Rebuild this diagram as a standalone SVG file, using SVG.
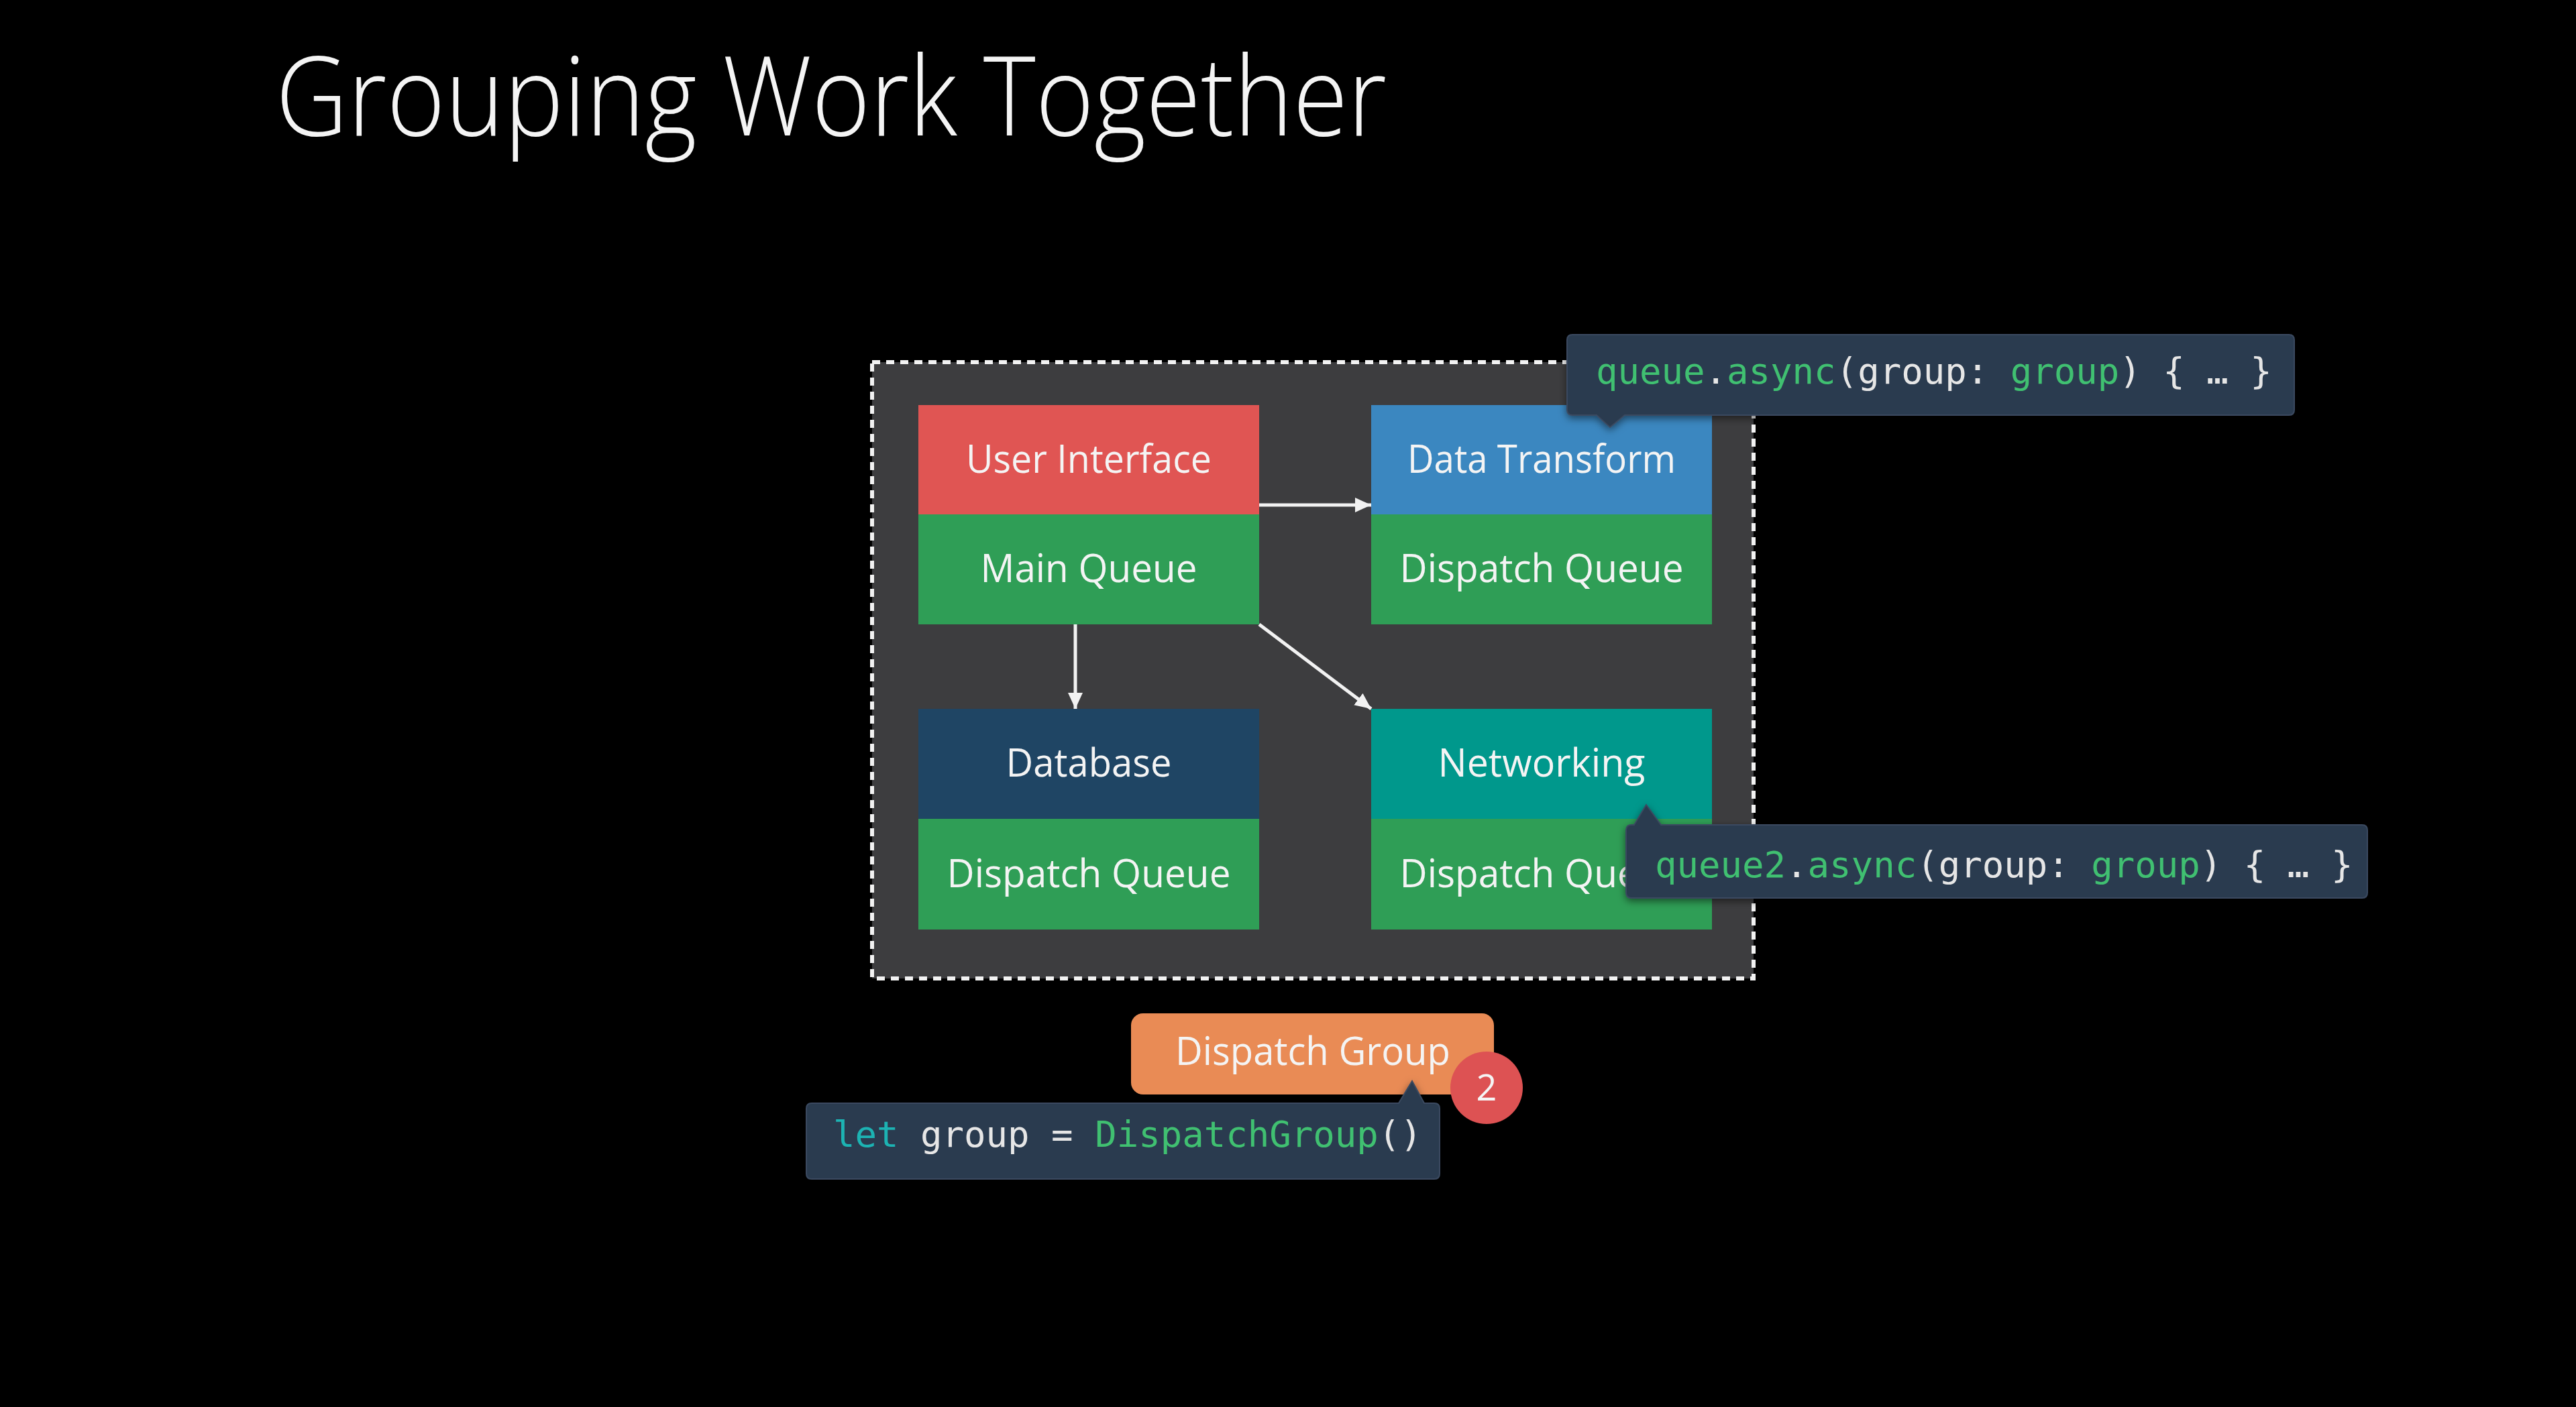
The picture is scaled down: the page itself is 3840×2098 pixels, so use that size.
<svg xmlns="http://www.w3.org/2000/svg" width="3840" height="2098" viewBox="0 0 3840 2098">
  <style>
    .lbl { font-family: "Open Sans", "Noto Sans", "Liberation Sans", sans-serif; font-size: 58px; fill: #f4f4f4; text-anchor: middle; }
    .code { font-family: "DejaVu Sans Mono", "Liberation Mono", monospace; font-size: 54px; fill: #e6e6e6; }
    .kw { fill: #3fc071; }
    .let { fill: #1fb3b3; }
    .callout { fill: #2c3b4f; stroke: #3a4a60; stroke-width: 2; }
    .conn { stroke: #f2f2f2; stroke-width: 5; fill: none; marker-end: url(#head); }
  </style>
  <defs>
    <marker id="head" viewBox="0 0 24 22" refX="24" refY="11" markerWidth="24" markerHeight="22" markerUnits="userSpaceOnUse" orient="auto">
      <path d="M0,0 L24,11 L0,22 Z" fill="#f2f2f2"/>
    </marker>
    <filter id="shadow" x="-10%" y="-30%" width="120%" height="160%">
      <feDropShadow dx="0" dy="4" stdDeviation="6" flood-color="#000" flood-opacity="0.5"/>
    </filter>
  </defs>

  <rect x="0" y="0" width="3840" height="2098" fill="#000"/>

  <!-- Title -->
  <text x="411" y="202" font-family="Open Sans, Noto Sans, Liberation Sans, sans-serif" font-weight="300" font-size="164" fill="#f4f4f4" textLength="1656" lengthAdjust="spacingAndGlyphs">Grouping Work Together</text>

  <!-- Dashed group panel -->
  <g id="group-panel">
    <rect x="1300" y="540" width="1314" height="919" fill="#3d3d3f" stroke="#f2f2f2" stroke-width="6" stroke-dasharray="12 9"/>
  </g>

  <!-- Queue blocks -->
  <g id="user-interface">
    <rect x="1369" y="604" width="508" height="164" fill="#e05553"/>
    <rect x="1369" y="767" width="508" height="164" fill="#2f9e56"/>
    <text class="lbl" x="1623" y="705" textLength="366" lengthAdjust="spacingAndGlyphs">User Interface</text>
    <text class="lbl" x="1623" y="868" textLength="323" lengthAdjust="spacingAndGlyphs">Main Queue</text>
  </g>

  <g id="data-transform">
    <rect x="2044" y="604" width="508" height="164" fill="#3b87c0"/>
    <rect x="2044" y="767" width="508" height="164" fill="#2f9e56"/>
    <text class="lbl" x="2298" y="705" textLength="400" lengthAdjust="spacingAndGlyphs">Data Transform</text>
    <text class="lbl" x="2298" y="868" textLength="423" lengthAdjust="spacingAndGlyphs">Dispatch Queue</text>
  </g>

  <g id="database">
    <rect x="1369" y="1057" width="508" height="165" fill="#1f4564"/>
    <rect x="1369" y="1221" width="508" height="165" fill="#2f9e56"/>
    <text class="lbl" x="1623" y="1158" textLength="247" lengthAdjust="spacingAndGlyphs">Database</text>
    <text class="lbl" x="1623" y="1323" textLength="423" lengthAdjust="spacingAndGlyphs">Dispatch Queue</text>
  </g>

  <g id="networking">
    <rect x="2044" y="1057" width="508" height="165" fill="#00988c"/>
    <rect x="2044" y="1221" width="508" height="165" fill="#2f9e56"/>
    <text class="lbl" x="2298" y="1158" textLength="309" lengthAdjust="spacingAndGlyphs">Networking</text>
    <text class="lbl" x="2298" y="1323" textLength="423" lengthAdjust="spacingAndGlyphs">Dispatch Queue</text>
  </g>

  <!-- Connectors -->
  <g id="connectors">
    <line class="conn" x1="1877" y1="753" x2="2044" y2="753"/>
    <line class="conn" x1="1603" y1="931" x2="1603" y2="1057"/>
    <line class="conn" x1="1877" y1="931" x2="2044" y2="1057"/>
  </g>

  <!-- Dispatch group badge -->
  <g id="dispatch-group">
    <rect x="1686" y="1511" width="541" height="121" rx="18" fill="#e98b55"/>
    <text class="lbl" x="1957" y="1588" textLength="410" lengthAdjust="spacingAndGlyphs">Dispatch Group</text>
  </g>

  <g id="step-badge">
    <circle cx="2216" cy="1622" r="54" fill="#dd5253"/>
    <text x="2216" y="1641" font-family="Open Sans, Noto Sans, Liberation Sans, sans-serif" font-size="54" fill="#f4f4f4" text-anchor="middle">2</text>
  </g>

  <!-- Code callouts -->
  <g id="callout-queue" filter="url(#shadow)">
    <path class="callout" d="M2344,499 H3412 Q3420,499 3420,507 V611 Q3420,619 3412,619 H2422 L2400,637 L2380,619 H2344 Q2336,619 2336,611 V507 Q2336,499 2344,499 Z"/>
    <text class="code" x="2379" y="572"><tspan class="kw">queue</tspan>.<tspan class="kw">async</tspan>(group: <tspan class="kw">group</tspan>) { … }</text>
  </g>

  <g id="callout-queue2" filter="url(#shadow)">
    <path class="callout" d="M2432,1230 H2436 L2454,1200 L2476,1230 H3521 Q3529,1230 3529,1238 V1331 Q3529,1339 3521,1339 H2432 Q2424,1339 2424,1331 V1238 Q2424,1230 2432,1230 Z"/>
    <text class="code" x="2467" y="1308"><tspan class="kw">queue2</tspan>.<tspan class="kw">async</tspan>(group: <tspan class="kw">group</tspan>) { … }</text>
  </g>

  <g id="callout-group" filter="url(#shadow)">
    <path class="callout" d="M1210,1645 H2085 L2105,1612 L2123,1645 H2138 Q2146,1645 2146,1653 V1750 Q2146,1758 2138,1758 H1210 Q1202,1758 1202,1750 V1653 Q1202,1645 1210,1645 Z"/>
    <text class="code" x="1242" y="1710"><tspan class="let">let</tspan> group = <tspan class="kw">DispatchGroup</tspan>()</text>
  </g>
</svg>
